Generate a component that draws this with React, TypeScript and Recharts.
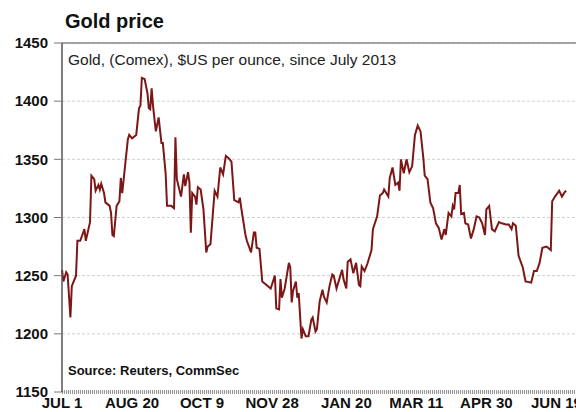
import { LineChart, Line, XAxis, YAxis, CartesianGrid, ReferenceLine } from 'recharts'

// days since Jul 1 2013, Comex close
const days = [
  0, 1, 3, 4, 6, 7, 10, 11, 13, 16, 17, 20, 21, 23, 24, 26, 27, 28, 30, 31,
  34, 35, 36, 37, 39, 41, 42, 43, 45, 47, 48, 50, 53, 55, 56, 57, 59, 61, 62, 63,
  64, 65, 67, 69, 71, 72, 74, 75, 78, 80, 81, 82, 85, 87, 88, 90, 91, 92, 93, 95,
  96, 97, 99, 101, 103, 104, 106, 109, 111, 113, 115, 117, 119, 121, 123, 126, 127, 128, 131, 132,
  135, 137, 138, 139, 141, 143, 146, 149, 152, 153, 155, 156, 157, 159, 162, 163, 164, 165, 167, 168,
  169, 171, 172, 174, 176, 178, 179, 181, 182, 184, 186, 187, 189, 191, 193, 194, 196, 198, 200, 201,
  203, 204, 206, 208, 210, 212, 213, 214, 216, 218, 221, 222, 225, 227, 229, 230, 233, 234, 236, 238,
  240, 241, 242, 244, 246, 248, 250, 252, 254, 256, 258, 259, 261, 263, 265, 267, 269, 271, 273, 274,
  276, 278, 279, 280, 281, 283, 284, 285, 287, 288, 290, 292, 294, 296, 298, 300, 302, 303, 305, 307,
  309, 312, 314, 317, 319, 321, 322, 324, 326, 329, 331, 335, 337, 339, 341, 343, 346, 349, 350, 352,
  355, 357, 359, 360,
]

const prices = [
  1255, 1245, 1253, 1251, 1214, 1241, 1250, 1280, 1280, 1290, 1280, 1296, 1336, 1333, 1323, 1328, 1324, 1329, 1321, 1313,
  1310, 1304, 1285, 1284, 1310, 1314, 1334, 1321, 1344, 1367, 1371, 1368, 1371, 1394, 1396, 1420, 1419, 1407, 1394, 1393,
  1411, 1396, 1374, 1386, 1364, 1364, 1338, 1310, 1310, 1308, 1369, 1333, 1318, 1337, 1327, 1339, 1330, 1287, 1321, 1318,
  1311, 1326, 1324, 1307, 1270, 1275, 1277, 1323, 1318, 1343, 1337, 1353, 1351, 1348, 1315, 1313, 1317, 1308, 1285, 1280,
  1270, 1287, 1287, 1274, 1273, 1245, 1242, 1239, 1250, 1222, 1221, 1247, 1231, 1239, 1261, 1257, 1227, 1237, 1245, 1231,
  1235, 1196, 1204, 1198, 1198, 1212, 1214, 1202, 1204, 1228, 1238, 1232, 1227, 1241, 1251, 1250, 1239, 1247, 1255, 1247,
  1239, 1262, 1264, 1252, 1261, 1242, 1241, 1258, 1254, 1260, 1272, 1290, 1301, 1319, 1321, 1324, 1318, 1334, 1343, 1328,
  1330, 1323, 1350, 1338, 1350, 1339, 1344, 1371, 1379, 1374, 1351, 1336, 1333, 1313, 1308, 1295, 1291, 1281, 1290, 1285,
  1304, 1301, 1310, 1307, 1321, 1321, 1328, 1303, 1304, 1295, 1294, 1282, 1290, 1301, 1300, 1295, 1285, 1307, 1310, 1290,
  1288, 1296, 1295, 1294, 1294, 1290, 1295, 1293, 1267, 1257, 1245, 1244, 1254, 1254, 1261, 1274, 1275, 1272, 1314, 1318,
  1323, 1318, 1322, 1323,
]

const xTicks = [0, 50, 100, 150, 203, 253, 303, 353]
const xLabels = ['JUL 1', 'AUG 20', 'OCT 9', 'NOV 28', 'JAN 20', 'MAR 11', 'APR 30', 'JUN 19']
const yTicks = [1150, 1200, 1250, 1300, 1350, 1400, 1450]

const data = days.map((d, i) => ({ day: d, price: prices[i] }))

const font = "Arial, 'Liberation Sans', sans-serif"

export default function App() {
  return (
    <div style={{ position: 'absolute', left: 0, top: 0, width: 576, height: 412, background: '#fff', fontFamily: font }}>
      <LineChart width={576} height={412} data={data} margin={{ top: 43, right: 0, left: 0, bottom: 0 }}>
        <CartesianGrid vertical={false} stroke="#cfcfcf" strokeDasharray="3 2" />
        <XAxis
          dataKey="day"
          type="number"
          domain={[0, 367]}
          ticks={xTicks}
          interval={0}
          tickFormatter={(v) => xLabels[xTicks.indexOf(v)] ?? ''}
          height={20}
          tickLine={false}
          tickSize={4}
          tickMargin={1}
          axisLine={{ stroke: '#999', strokeWidth: 4, strokeDasharray: '1 1' }}
          tick={{ fill: '#111', fontSize: 15, fontWeight: 700, fontFamily: font }}
        />
        <YAxis
          domain={[1150, 1450]}
          ticks={yTicks}
          interval={0}
          width={62}
          tickSize={8}
          tickMargin={6}
          axisLine={{ stroke: '#555', strokeWidth: 1.5 }}
          tickLine={{ stroke: '#777' }}
          tick={{ fill: '#111', fontSize: 15, fontWeight: 700, fontFamily: font }}
        />
        <ReferenceLine y={1450} stroke="#888" strokeWidth={1.5} />
        <Line
          dataKey="price"
          type="linear"
          stroke="#7d1717"
          strokeWidth={2}
          dot={false}
          isAnimationActive={false}
        />
      </LineChart>
      <div style={{ position: 'absolute', left: 65, top: 11, fontSize: 20, lineHeight: '20px', fontWeight: 700, color: '#111' }}>
        Gold price
      </div>
      <div style={{ position: 'absolute', left: 68, top: 52, fontSize: 15.5, lineHeight: '16px', color: '#222', whiteSpace: 'nowrap' }}>
        Gold, (Comex), $US per ounce, since July 2013
      </div>
      <div style={{ position: 'absolute', left: 68, top: 364, fontSize: 13, lineHeight: '13px', fontWeight: 700, color: '#111' }}>
        Source: Reuters, CommSec
      </div>
    </div>
  )
}
